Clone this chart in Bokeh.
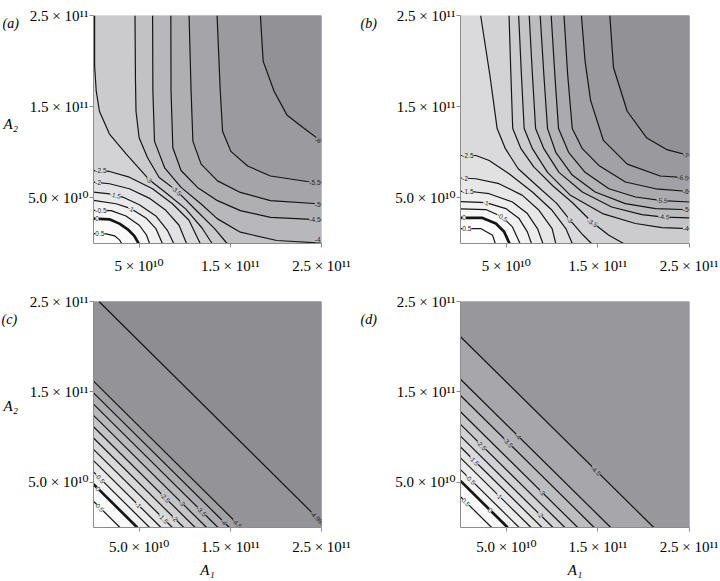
import numpy as np
from bokeh.plotting import figure
from bokeh.layouts import column, row
from bokeh.models import Range1d, FixedTicker, ColumnDataSource
from bokeh.core.properties import value
from bokeh.embed import file_html
from bokeh.resources import INLINE

# All A1 / A2 coordinates below are in units of 1e10.
tick_pos = [5, 15, 25]
x_tick_labels_ab = ["5 × 10¹⁰", "1.5 × 10¹¹", "2.5 × 10¹¹"]
x_tick_labels_cd = ["5.0 × 10¹⁰", "1.5 × 10¹¹", "2.5 × 10¹¹"]
y_tick_labels = ["5.0 × 10¹⁰", "1.5 × 10¹¹", "2.5 × 10¹¹"]
panel_letters = ["(a)", "(b)", "(c)", "(d)"]
x_title = "A₁"
y_title = "A₂"

# ---------------- panel (a): contour lines ----------------
a_levels = [0.5, 0, -0.5, -1, -1.5, -2, -2.5, -3, -3.5, -4, -4.5, -5, -5.5, -6]
a_xs = [
    [0, 1.4, 2.3, 2.85, 3.1],
    [0, 1.75, 2.84, 3.75, 4.47, 4.95],
    [0, 1.93, 3.56, 5.02, 5.82, 6.15],
    [0, 2.47, 4.11, 5.75, 6.84, 7.55],
    [0, 1.75, 3.2, 5.02, 6.84, 8.1, 8.8],
    [0, 1.75, 3.93, 6.1, 7.93, 9.38, 10.2],
    [0, 1.75, 3.93, 6.47, 8.65, 10.47, 11.7],
    [0.12, 0.12, 0.3, 0.65, 1.75, 3.6, 6.1, 7.9, 10.1, 11.9, 13.0],
    [4.55, 4.6, 4.66, 5.0, 5.93, 7.2, 9.1, 11.5, 13.3, 14.65],
    [6.48, 6.51, 6.69, 7.8, 9.6, 11.8, 13.6, 16.1, 20.1, 25],
    [8.48, 8.5, 8.7, 9.6, 11.4, 13.6, 16.1, 19.4, 25],
    [10.48, 10.7, 10.9, 11.8, 13.6, 16.1, 19.4, 25],
    [13.55, 13.9, 14.15, 15.06, 16.9, 19.4, 23.4, 25],
    [18.3, 18.6, 19.8, 21.2, 23.0, 25],
]
a_ys = [
    [1.09, 1.05, 0.84, 0.4, 0],
    [2.73, 2.65, 2.18, 1.56, 0.84, 0],
    [3.64, 3.6, 3.02, 2.0, 0.91, 0],
    [4.73, 4.36, 3.82, 2.8, 1.64, 0],
    [5.64, 5.45, 5.09, 4.25, 3.02, 1.45, 0],
    [6.73, 6.55, 6.0, 4.98, 3.64, 2.0, 0],
    [8.0, 7.9, 7.27, 6.0, 4.36, 2.55, 0],
    [25, 19.5, 16.7, 14.5, 12.0, 9.8, 7.0, 5.6, 3.8, 1.7, 0],
    [25, 18, 14.5, 11.6, 9.4, 7.24, 5.8, 3.4, 1.6, 0],
    [25, 16.7, 11.2, 8.3, 6.15, 4.33, 2.7, 1.24, 0.33, 0.05],
    [25, 16.7, 10.5, 8.0, 6.15, 4.7, 3.6, 2.87, 2.58],
    [25, 16.7, 11.2, 8.7, 6.87, 5.6, 4.7, 4.33],
    [25, 16.7, 12.3, 10.1, 8.5, 7.4, 6.8, 6.7],
    [25, 20, 16.7, 14.1, 12.7, 11.2],
]
a_lab_text = ["0.5", "0", "-0.5", "-1", "-1.5", "-2", "-2.5", "-3", "-3.5", "-4", "-4.5", "-5", "-5.5", "-6"]
a_lab_x = [0.2, 0.2, 0.2, 4.1, 2.4, 0.2, 0.2, 6.1, 9.1, 24.9, 24.9, 24.9, 24.9, 24.9]
a_lab_y = [1.09, 2.73, 3.64, 3.84, 5.3, 6.73, 8.0, 7.0, 5.8, 0.4, 2.58, 4.33, 6.7, 11.2]
a_lab_angle = [0, 0, 0, -25, -14, 0, 0, -44, -42, 0, 0, 0, 0, -25]
a_lab_align = ["left", "left", "left", "center", "center", "left", "left", "center", "center",
               "right", "right", "right", "right", "right"]

# ---------------- panel (b) ----------------
b_levels = [0.5, 0, -0.5, -1, -1.5, -2, -2.5, -3, -3.5, -4, -4.5, -5, -5.5, -6, -6.5, -7]
b_xs = [
    [0, 2.2, 3.5, 3.8],
    [0, 2.4, 3.86, 4.77, 5.35],
    [0, 2.77, 4.58, 5.67, 6.5],
    [0, 2.77, 4.95, 6.4, 7.3, 7.75],
    [0, 1.6, 3.13, 5.67, 7.3, 8.4, 9.0],
    [0, 1.68, 4.2, 6.76, 8.57, 10.0, 10.4],
    [0, 1.68, 3.13, 5.3, 7.85, 10.0, 11.5, 12.2],
    [2.2, 3.2, 4.0, 4.9, 6.3, 8.5, 10.5, 12.0, 13.4, 14.3],
    [5.3, 5.5, 5.7, 6.6, 8.0, 10.1, 12.2, 14.4, 16.2, 17.8],
    [6.35, 6.65, 6.95, 7.85, 9.5, 12.0, 15.5, 19.1, 22.0, 25],
    [7.5, 7.85, 8.2, 9.1, 10.75, 13.3, 16.5, 19.8, 22.2, 25],
    [8.7, 9.1, 9.5, 10.4, 12.2, 14.7, 18.0, 21.3, 25],
    [9.9, 10.3, 10.7, 11.8, 13.6, 16.2, 19.1, 22.0, 25],
    [11.3, 11.7, 12.2, 13.3, 15.1, 18.0, 21.3, 25],
    [13.2, 13.6, 14.2, 15.6, 18.2, 21.8, 25],
    [16.3, 16.7, 18.2, 20.3, 22.5, 25],
]
b_ys = [
    [1.64, 1.64, 0.9, 0],
    [2.8, 2.8, 2.19, 1.28, 0],
    [3.8, 3.72, 2.9, 1.82, 0],
    [4.6, 4.48, 3.83, 2.73, 1.28, 0],
    [5.72, 5.65, 5.46, 4.55, 3.28, 1.64, 0],
    [7.18, 7.1, 6.56, 5.28, 3.64, 1.64, 0],
    [9.65, 9.65, 9.1, 7.65, 5.65, 3.64, 1.64, 0],
    [25, 18.5, 12.6, 10.4, 8.2, 6.2, 4.4, 2.5, 0.9, 0],
    [25, 18.5, 12.6, 10.4, 8.4, 6.3, 4.5, 2.3, 0.9, 0],
    [25, 18.5, 12.6, 10.4, 7.8, 5.28, 3.28, 2.19, 1.75, 1.64],
    [25, 18.5, 12.6, 10.4, 7.8, 5.65, 4.0, 3.17, 2.9, 2.8],
    [25, 18.5, 12.6, 10.0, 7.5, 5.65, 4.37, 3.83, 3.7],
    [25, 18.5, 12.6, 10.0, 7.8, 6.0, 5.1, 4.7, 4.55],
    [25, 18.5, 12.6, 10.4, 8.56, 6.74, 6.0, 5.7],
    [25, 20, 15.7, 11.3, 8.7, 7.4, 7.2],
    [25, 19.3, 14.5, 11.6, 10.3, 9.65],
]
b_lab_text = ["0.5", "0", "-0.5", "-1", "-1.5", "-2", "-2.5", "-3", "-3.5",
              "-4", "-4.5", "-5", "-5.5", "-6", "-6.5", "-7"]
b_lab_x = [0.2, 0.2, 4.58, 2.77, 0.2, 0.2, 0.2, 11.9, 14.4, 24.9, 22.2, 24.9, 22.0, 24.9, 24.9, 24.9]
b_lab_y = [1.64, 2.8, 2.9, 4.48, 5.72, 7.18, 9.65, 2.6, 2.3, 1.64, 2.95, 3.7, 4.72, 5.7, 7.2, 9.65]
b_lab_angle = [0, 0, -33, -10, 0, 0, 0, -45, -30, 0, -4, 0, -4, 0, -3, -12]
b_lab_align = ["left", "left", "center", "center", "left", "left", "left", "center", "center",
               "right", "center", "right", "center", "right", "right", "right"]

# ---------------- panels (c) and (d): straight contours A1 + A2 = sum ----------------
c_levels = [0.5, 0, -0.5, -1, -1.5, -2, -2.5, -3, -3.5, -4, -4.5, -4.999]
c_sums = [2.9, 4.8, 6.15, 7.4, 8.65, 9.9, 11.15, 12.4, 13.65, 14.9, 16.2, 25.6]
c_lab_y = [2.2, 4.3, 5.45, 2.5, 1.0, 1.0, 3.3, 2.7, 1.8, 0.6, 0.45, 1.0]

d_levels = [0.5, 0, -0.5, -1, -1.5, -2, -2.5, -3, -3.5, -4, -4.5]
d_sums = [3.4, 5.15, 6.4, 7.7, 8.9, 10.1, 11.4, 12.8, 14.6, 16.4, 21.1]
d_lab_y = [2.8, 1.9, 5.3, 3.5, 7.4, 1.4, 9.1, 3.9, 9.4, 10.1, 6.3]

# colour-scale extent per panel (lowest value reached in each panel)
f_low = {"a": -6.4, "b": -7.4, "c": -5.0, "d": -5.3}
F_HIGH = 1.0
HI = 25.0
SERIF = "Liberation Serif, DejaVu Serif"
AXIS_GRAY = "#8c8c8c"


def gray(f, fmin, fmax=F_HIGH):
    t = min(max((fmax - f) / (fmax - fmin), 0.0), 1.0) ** 1.4
    g = 255 - 114 * t
    b = min(255, g + 5 * t)
    return "#%02x%02x%02x" % (int(round(g)), int(round(g)), int(round(b)))


def region(xs, ys):
    """Polygon of the side of a contour that lies towards the top-right corner."""
    px, py = list(xs), list(ys)
    if py[-1] <= 1e-9 and px[-1] < HI - 1e-9:
        px += [HI, HI]
        py += [0.0, HI]
    else:
        px += [HI]
        py += [HI]
    if px[0] <= 1e-9 and py[0] < HI - 1e-9:
        px += [0.0]
        py += [HI]
    return px, py


def diag(s):
    if s <= HI:
        return [0.0, s], [s, 0.0]
    return [s - HI, HI], [HI, s - HI]


def make_fig(width, height, bl, bt, br, bb, xlabels, x_standoff, xlabel=None):
    p = figure(width=width, height=height, x_range=Range1d(0, HI), y_range=Range1d(0, HI),
               output_backend="svg", toolbar_location=None,
               min_border_left=bl, min_border_top=bt, min_border_right=br, min_border_bottom=bb)
    p.xgrid.visible = False
    p.ygrid.visible = False
    p.outline_line_color = None
    p.border_fill_color = "white"
    for ax in (p.xaxis[0], p.yaxis[0]):
        ax.ticker = FixedTicker(ticks=tick_pos)
        ax.axis_line_color = AXIS_GRAY
        ax.major_tick_line_color = AXIS_GRAY
        ax.major_tick_in = 0
        ax.major_tick_out = 4
        ax.minor_tick_line_color = None
        ax.major_label_text_font = SERIF
        ax.major_label_text_font_size = "15px"
        ax.major_label_text_color = "black"
    p.xaxis[0].major_label_standoff = x_standoff
    p.yaxis[0].major_label_standoff = 1
    p.xaxis[0].major_label_overrides = {t: s for t, s in zip(tick_pos, xlabels)}
    p.yaxis[0].major_label_overrides = {t: s for t, s in zip(tick_pos, y_tick_labels)}
    if xlabel:
        p.xaxis[0].axis_label = xlabel
        p.xaxis[0].axis_label_text_font = SERIF
        p.xaxis[0].axis_label_text_font_style = "italic"
        p.xaxis[0].axis_label_text_font_size = "15px"
        p.xaxis[0].axis_label_text_color = "black"
        p.xaxis[0].axis_label_standoff = 4
    return p


def draw_panel(p, levels, xs, ys, fmin):
    p.background_fill_color = gray((F_HIGH + levels[0]) / 2, fmin)
    rx, ry, rc = [], [], []
    for i, lv in enumerate(levels):
        nxt = levels[i + 1] if i + 1 < len(levels) else fmin
        px, py = region(xs[i], ys[i])
        rx.append(px)
        ry.append(py)
        rc.append(gray((lv + nxt) / 2, fmin))
    p.patches(xs=rx, ys=ry, fill_color=rc, line_color=None)
    lw = [2.7 if lv == 0 else 1.2 for lv in levels]
    p.multi_line(xs=[list(x) for x in xs], ys=[list(y) for y in ys], line_width=lw,
                 line_color="#151515")


def draw_labels(p, texts, lx, ly, angles, aligns, fmin):
    for al in ("left", "center", "right"):
        idx = [i for i, a in enumerate(aligns) if a == al]
        if not idx:
            continue
        src = ColumnDataSource(dict(
            x=[lx[i] for i in idx], y=[ly[i] for i in idx], text=[texts[i] for i in idx],
            angle=[float(np.deg2rad(angles[i])) for i in idx],
            bg=[gray(float(texts[i]), fmin) for i in idx]))
        p.text(x="x", y="y", text="text", angle="angle", source=src,
               text_align=al, text_baseline="middle",
               text_font=value("Liberation Sans"), text_font_size="6.5px",
               text_color="#262626", background_fill_color="bg")


def strip(width, height, letter, letter_x, letter_top, ytitle_y=None):
    """Narrow text-only figure holding the panel letter (and the A2 title)."""
    s = figure(width=width, height=height, x_range=Range1d(0, width), y_range=Range1d(0, height),
               output_backend="svg", toolbar_location=None, x_axis_type=None, y_axis_type=None,
               min_border=0)
    s.outline_line_color = None
    s.grid.visible = False
    s.text(x=[letter_x], y=[letter_top], text=[letter], text_font=value(SERIF),
           text_font_style="italic", text_font_size="14px", text_baseline="top",
           text_align="left", text_color="black")
    if ytitle_y is not None:
        s.text(x=[3], y=[ytitle_y], text=[y_title], text_font=value(SERIF),
               text_font_style="italic", text_font_size="15px", text_baseline="middle",
               text_align="left", text_color="black")
    return s


H_TOP, H_BOT = 276, 304
W_SA, W_PA, W_SB, W_PB = 25, 333, 20, 340

# ---- (a)
sa = strip(W_SA, H_TOP, panel_letters[0], 2, H_TOP, ytitle_y=H_TOP - 131)
pa = make_fig(W_PA, H_TOP, 67, 14, 37, 33, x_tick_labels_ab, 10)
draw_panel(pa, a_levels, a_xs, a_ys, f_low["a"])
draw_labels(pa, a_lab_text, a_lab_x, a_lab_y, a_lab_angle, a_lab_align, f_low["a"])

# ---- (b)
sb = strip(W_SB, H_TOP, panel_letters[1], 2, H_TOP)
pb = make_fig(W_PB, H_TOP, 82, 15, 29, 32, x_tick_labels_ab, 10)
draw_panel(pb, b_levels, b_xs, b_ys, f_low["b"])
draw_labels(pb, b_lab_text, b_lab_x, b_lab_y, b_lab_angle, b_lab_align, f_low["b"])

# ---- (c)
c_xs, c_ys = zip(*[diag(s) for s in c_sums])
sc = strip(W_SA, H_BOT, panel_letters[2], 1, H_BOT - 14, ytitle_y=H_BOT - (416 - H_TOP))
pc = make_fig(W_PA, H_BOT, 67, 25, 37, 50, x_tick_labels_cd, 7, xlabel=x_title)
draw_panel(pc, c_levels, c_xs, c_ys, f_low["c"])
draw_labels(pc, [str(v) if v != 0 else "0" for v in c_levels],
            [s - y for s, y in zip(c_sums, c_lab_y)], c_lab_y,
            [-45] * len(c_levels), ["center"] * len(c_levels), f_low["c"])

# ---- (d)
d_xs, d_ys = zip(*[diag(s) for s in d_sums])
sd = strip(W_SB, H_BOT, panel_letters[3], 2, H_BOT - 14)
pd_ = make_fig(W_PB, H_BOT, 82, 25, 29, 50, x_tick_labels_cd, 7, xlabel=x_title)
draw_panel(pd_, d_levels, d_xs, d_ys, f_low["d"])
draw_labels(pd_, [str(v) if v != 0 else "0" for v in d_levels],
            [s - y for s, y in zip(d_sums, d_lab_y)], d_lab_y,
            [-45] * len(d_levels), ["center"] * len(d_levels), f_low["d"])

layout = column(row(sa, pa, sb, pb), row(sc, pc, sd, pd_))
open("out.html", "w").write(file_html(layout, INLINE))
